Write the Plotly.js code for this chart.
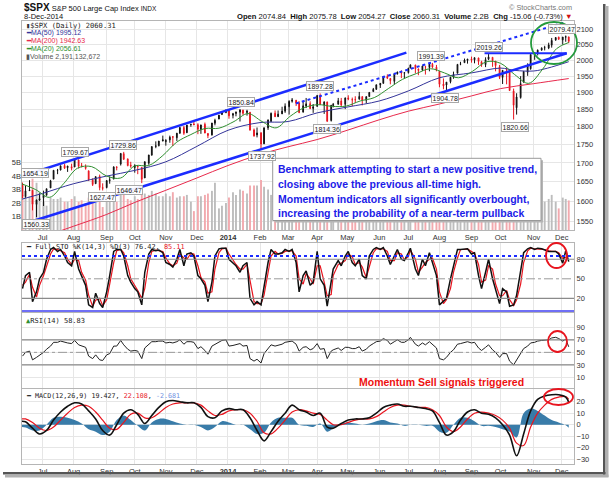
<!DOCTYPE html>
<html><head><meta charset="utf-8">
<script src="https://cdn.plot.ly/plotly-3.0.1.min.js"></script>
<style>html,body{margin:0;padding:0;background:#fff}#chart{width:609px;height:479px}</style>
</head><body><div id="chart"></div>
<script>
// ---------- DATA (half-week candles) ----------
const dates = ['2013-06-11','2013-06-14','2013-06-18','2013-06-21','2013-06-25','2013-06-28','2013-07-02','2013-07-05','2013-07-09','2013-07-12',
'2013-07-16','2013-07-19','2013-07-23','2013-07-26','2013-07-30','2013-08-02','2013-08-06','2013-08-09','2013-08-13','2013-08-16',
'2013-08-20','2013-08-23','2013-08-27','2013-08-30','2013-09-03','2013-09-06','2013-09-10','2013-09-13','2013-09-17','2013-09-20',
'2013-09-24','2013-09-27','2013-10-01','2013-10-04','2013-10-08','2013-10-11','2013-10-15','2013-10-18','2013-10-22','2013-10-25',
'2013-10-29','2013-11-01','2013-11-05','2013-11-08','2013-11-12','2013-11-15','2013-11-19','2013-11-22','2013-11-26','2013-11-29',
'2013-12-03','2013-12-06','2013-12-10','2013-12-13','2013-12-17','2013-12-20','2013-12-24','2013-12-27','2013-12-31','2014-01-03',
'2014-01-07','2014-01-10','2014-01-14','2014-01-17','2014-01-21','2014-01-24','2014-01-28','2014-01-31','2014-02-04','2014-02-07',
'2014-02-11','2014-02-14','2014-02-18','2014-02-21','2014-02-25','2014-02-28','2014-03-04','2014-03-07','2014-03-11','2014-03-14',
'2014-03-18','2014-03-21','2014-03-25','2014-03-28','2014-04-01','2014-04-04','2014-04-08','2014-04-11','2014-04-15','2014-04-17',
'2014-04-22','2014-04-25','2014-04-29','2014-05-02','2014-05-06','2014-05-09','2014-05-13','2014-05-16','2014-05-20','2014-05-23',
'2014-05-27','2014-05-30','2014-06-03','2014-06-06','2014-06-10','2014-06-13','2014-06-17','2014-06-20','2014-06-24','2014-06-27',
'2014-07-01','2014-07-03','2014-07-08','2014-07-11','2014-07-15','2014-07-18','2014-07-22','2014-07-25','2014-07-29','2014-08-01',
'2014-08-05','2014-08-08','2014-08-12','2014-08-15','2014-08-19','2014-08-22','2014-08-26','2014-08-29','2014-09-02','2014-09-05',
'2014-09-09','2014-09-12','2014-09-16','2014-09-19','2014-09-23','2014-09-26','2014-09-30','2014-10-03','2014-10-07','2014-10-10',
'2014-10-14','2014-10-17','2014-10-21','2014-10-24','2014-10-28','2014-10-31','2014-11-04','2014-11-07','2014-11-11','2014-11-14',
'2014-11-18','2014-11-21','2014-11-25','2014-11-28','2014-12-02','2014-12-05','2014-12-08'];

const open = [1643,1612,1627,1628,1592,1603,1609,1615,1634,1657,
1680,1681,1693,1687,1690,1689,1708,1693,1689,1679,
1655,1645,1664,1635,1635,1653,1657,1689,1697,1725,
1711,1694,1687,1692,1688,1660,1699,1721,1745,1747,
1760,1758,1763,1772,1769,1782,1798,1783,1806,1808,
1806,1792,1807,1781,1777,1810,1822,1835,1841,1848,
1833,1838,1842,1848,1841,1842,1791,1777,1783,1752,
1797,1815,1839,1829,1837,1845,1858,1874,1877,1869,
1842,1860,1867,1853,1859,1891,1863,1872,1818,1861,
1865,1875,1865,1884,1879,1879,1880,1888,1877,1888,
1903,1910,1923,1928,1949,1943,1934,1957,1962,1959,
1961,1975,1985,1972,1969,1979,1977,1987,1978,1965,
1926,1923,1933,1947,1959,1987,1992,1999,2004,2001,
2007,1995,1986,2003,2009,1997,1979,1946,1970,1965,
1905,1855,1885,1932,1962,1973,2019,2023,2032,2039,
2039,2048,2065,2074,2065,2074,2074.84];

const high = [1648,1640,1654.2,1629,1604,1620,1627,1632,1655,1680.2,
1684,1693,1698,1692,1698,1709.7,1709,1700,1696,1679,
1659,1664,1669,1646,1654,1664,1691,1691,1727,1729.9,
1711,1703,1696,1692,1688,1704,1721.8,1745,1759,1760,
1775,1765,1775,1774,1782,1798.2,1802,1805,1808,1813.6,
1810,1806,1812,1782,1811,1823,1834,1844.9,1849.4,1848,
1840,1844,1850.8,1849,1849,1842,1795,1798,1784,1798,
1821,1841,1847,1847,1858,1867.9,1877,1883.6,1878,1874,
1874,1883.9,1874,1866,1893,1897.3,1874,1873,1863,1869,
1884,1884,1885,1892,1885,1889,1902,1888,1888,1901,
1914,1924,1929,1949.4,1955.6,1944,1958,1963.9,1968,1961,
1976,1985.6,1985,1974,1983,1982,1988,1991.4,1985,1966,
1943,1932,1948,1964,1988,1994.8,2005,2004,2011.2,2009,
2007.7,1998,2009,2019.3,2009,1997,1985,1969,1977,1970,
1912,1898,1950,1965,1990,2018.2,2024,2034,2041,2046,
2056,2071.5,2074,2075.8,2074.9,2079.5,2075.78];

const low = [1608,1609,1627,1577,1560.3,1601,1588,1615,1634,1657,
1670,1680,1684,1676,1680,1689,1685,1688,1682,1652,
1639,1645,1628,1627.5,1633,1645,1657,1680,1693,1708,
1691,1687,1674,1670,1646.5,1660,1695,1720,1740,1745,
1759,1747,1755,1746,1760,1780,1777,1783,1800,1805,
1779,1780,1782,1768,1775,1804,1822,1835,1839,1823,
1824,1830,1815,1834,1832,1790,1772,1770,1737.9,1752,
1791,1815,1828,1829,1837,1840,1835,1870,1860,1839,
1842,1854,1851,1840,1859,1863,1837,1814.4,1815,1856,
1865,1860,1851,1877,1860,1869,1880,1862,1868,1888,
1903,1908,1914,1927,1941,1925,1925,1955,1944,1944,
1958,1975,1959,1953,1966,1955,1965,1974,1965,1916,
1910,1904.8,1928,1942,1959,1984,1992,1989,1992,1990,
1985,1979,1978,2000,1979,1965,1941,1926,1925,1905,
1820.7,1835,1882,1930,1951,1970,2001,2015,2030,2031,
2035,2040,2062,2065,2049.6,2059,2054.27];

const close = [1612.5,1626.7,1628.9,1592.4,1603.3,1606.3,1615.4,1631.9,1652.6,1680.2,
1680.9,1692.1,1685.9,1691.7,1685.7,1709.7,1690.9,1691.4,1685.4,1655.8,
1642.8,1663.5,1635.0,1633.0,1653.1,1655.2,1689.1,1688.0,1725.5,1709.9,
1692.8,1691.8,1693.9,1690.5,1656.4,1703.2,1721.5,1744.5,1746.4,1759.8,
1763.3,1761.6,1770.5,1770.6,1782.0,1798.2,1781.4,1804.8,1807.2,1805.8,
1792.8,1805.1,1782.2,1775.3,1810.7,1818.3,1833.3,1841.4,1848.4,1831.4,
1837.5,1842.4,1848.4,1838.7,1844.9,1790.3,1774.2,1782.6,1751.6,1797.0,
1819.3,1838.6,1828.8,1836.3,1845.2,1859.5,1873.8,1878.0,1868.2,1841.1,
1860.8,1866.5,1852.6,1857.6,1890.9,1865.1,1872.2,1815.7,1862.3,1864.9,
1875.4,1863.4,1884.0,1881.1,1878.2,1878.5,1888.5,1877.9,1888.0,1900.5,
1909.8,1923.6,1927.9,1949.4,1943.9,1936.2,1957.0,1962.9,1959.5,1961.0,
1974.6,1985.4,1972.8,1967.6,1981.6,1978.2,1987.0,1978.3,1970.1,1925.2,
1920.2,1931.6,1946.7,1955.1,1986.5,1988.4,2000.1,2003.4,2000.7,2007.7,
1995.7,1985.5,2001.6,2010.4,1998.3,1982.9,1946.2,1967.9,1968.9,1906.1,
1862.5,1886.8,1927.1,1964.6,1982.3,2018.1,2023.6,2031.9,2038.3,2039.8,
2048.7,2063.5,2072.8,2067.6,2074.3,2075.4,2060.31];

// average daily volume, billions
const volumeB = [2.6,2.5,2.5,3.8,3.5,2.8,2.1,1.8,2.4,2.3,
2.3,2.4,2.1,2.1,2.3,2.5,2.1,2.2,2.0,2.4,
2.1,2.0,2.1,1.7,2.3,2.1,2.5,2.1,2.6,3.0,
2.3,2.2,2.5,2.3,2.6,2.7,2.6,2.9,2.7,2.5,
2.5,2.7,2.5,2.8,2.4,2.5,2.5,2.6,2.1,1.4,
2.5,2.5,2.6,2.7,2.9,3.5,1.6,1.8,2.0,2.4,
2.8,2.6,3.0,2.9,2.7,3.3,3.3,3.3,3.7,3.2,
3.0,2.6,2.8,2.7,2.7,3.0,2.7,2.5,2.6,2.9,
2.6,3.3,2.8,2.6,2.8,3.0,2.9,3.1,2.8,2.5,
2.1,2.3,2.5,2.5,2.5,2.4,2.5,2.6,2.3,2.1,
2.1,2.4,2.1,2.3,2.1,2.1,2.2,3.0,2.2,2.4,
2.1,1.6,2.2,2.1,2.3,2.5,2.1,2.1,2.3,3.0,
2.5,2.5,2.1,2.3,1.9,1.8,1.6,1.7,2.1,2.2,
2.4,2.4,2.5,3.0,2.5,2.5,2.8,3.0,3.0,3.4,
3.9,3.6,2.7,2.6,2.5,3.0,2.5,2.3,2.1,2.1,
2.3,2.6,2.1,1.6,2.4,2.3,2.19];

const stoK = [35,55,60,15,30,50,60,80,95,98,
92,95,85,75,70,92,65,55,40,10,
6,28,12,6,30,55,92,95,95,85,
55,45,35,30,10,60,88,95,93,94,
90,75,72,68,80,95,70,88,90,85,
55,50,40,15,45,85,96,97,97,80,
75,70,60,70,75,20,10,15,10,40,
75,95,88,88,90,95,92,95,75,30,
55,62,40,45,92,50,40,8,45,65,
78,70,85,92,75,70,80,55,50,85,
95,98,95,98,85,72,85,95,80,78,
90,97,65,55,80,70,90,75,55,10,
15,20,50,68,95,95,96,96,88,90,
55,35,60,80,50,35,12,35,30,8,
10,25,60,90,96,98,95,97,96,94,
92,92,92,88,74,93,76.42];

const stoD = [40,45,57,37,22,40,55,70,88,96,
95,93,90,80,72,80,78,60,48,25,
8,17,20,9,18,42,75,93,95,90,
70,50,40,32,20,35,75,92,94,93,
92,82,73,70,74,88,82,80,89,88,
70,52,45,28,30,65,90,96,97,88,
78,72,65,65,72,45,15,12,12,25,
58,85,92,88,89,92,93,93,85,50,
42,58,50,42,70,70,45,24,26,55,
72,74,78,88,84,72,75,68,52,68,
90,96,96,96,92,78,78,90,88,79,
84,94,80,60,68,75,80,82,65,30,
12,18,35,60,82,95,95,96,92,89,
72,45,48,70,65,42,24,24,32,18,
9,18,42,75,93,97,96,96,96,95,
93,92,92,90,81,83,85.11];

const rsi = [44,50,52,38,42,45,50,55,60,66,
66,68,66,65,64,69,62,60,58,44,
40,46,38,37,46,48,60,60,69,62,
55,52,53,52,40,57,62,67,67,68,
68,65,66,65,67,70,63,67,67,66,
56,59,53,47,60,63,67,69,70,60,
61,62,64,60,61,40,36,39,33,48,
56,62,60,61,63,66,67,68,63,52,
58,59,54,56,64,55,56,40,52,54,
57,53,58,58,56,56,59,52,55,60,
64,67,68,72,69,63,67,70,66,66,
70,74,63,60,65,62,67,62,57,40,
38,42,50,54,63,64,66,67,65,66,
57,53,58,62,54,50,42,48,48,36,
30,38,50,56,60,65,66,68,69,69,
70,73,74,72,68,71,58.83];

// Moving averages
const ma200Dates = ['2013-06-10','2013-07-01','2013-08-01','2013-09-03','2013-10-01','2013-11-01','2013-12-02','2014-01-02','2014-02-03','2014-03-03','2014-04-01','2014-05-01','2014-06-02','2014-07-01','2014-08-01','2014-09-02','2014-10-01','2014-11-03','2014-12-08'];
const ma200 = [1495,1512,1538,1567,1597,1628,1660,1693,1723,1744,1764,1790,1820,1845,1866,1890,1912,1927,1942.63];
const ma50Dates = ['2013-06-10','2013-07-01','2013-08-01','2013-09-03','2013-10-01','2013-11-01','2013-12-02','2014-01-02','2014-02-03','2014-03-03','2014-04-01','2014-05-01','2014-06-02','2014-07-01','2014-08-01','2014-09-02','2014-10-01','2014-10-15','2014-11-03','2014-11-17','2014-12-08'];
const ma50 = [1605,1620,1645,1665,1680,1703,1745,1790,1812,1815,1840,1857,1875,1905,1945,1960,1975,1968,1966,1975,1995.12];
const ma20Dates = ['2013-06-10','2013-06-24','2013-07-08','2013-07-22','2013-08-05','2013-08-19','2013-09-03','2013-09-17','2013-10-01','2013-10-15','2013-10-29','2013-11-12','2013-11-26','2013-12-10','2013-12-24','2014-01-08','2014-01-22','2014-02-05','2014-02-19','2014-03-05','2014-03-19','2014-04-02','2014-04-16','2014-04-30','2014-05-14','2014-05-28','2014-06-11','2014-06-25','2014-07-09','2014-07-23','2014-08-06','2014-08-20','2014-09-03','2014-09-17','2014-10-01','2014-10-15','2014-10-29','2014-11-12','2014-11-26','2014-12-08'];
const ma20 = [1645,1630,1610,1645,1686,1690,1665,1660,1692,1693,1720,1757,1778,1795,1796,1815,1838,1815,1797,1830,1855,1864,1859,1860,1875,1885,1912,1940,1958,1973,1960,1945,1965,1995,1990,1955,1928,1972,2037,2056.61];

// MACD (weekly readings)
const macdDates = ['2013-06-10','2013-06-14','2013-06-21','2013-06-28','2013-07-05','2013-07-12','2013-07-19','2013-07-26','2013-08-02','2013-08-09','2013-08-16','2013-08-23','2013-08-30','2013-09-06','2013-09-13','2013-09-20','2013-09-27','2013-10-04','2013-10-11','2013-10-18','2013-10-25','2013-11-01','2013-11-08','2013-11-15','2013-11-22','2013-11-29','2013-12-06','2013-12-13','2013-12-20','2013-12-27','2014-01-03','2014-01-10','2014-01-17','2014-01-24','2014-01-31','2014-02-07','2014-02-14','2014-02-21','2014-02-28','2014-03-07','2014-03-14','2014-03-21','2014-03-28','2014-04-04','2014-04-11','2014-04-17','2014-04-25','2014-05-02','2014-05-09','2014-05-16','2014-05-23','2014-05-30','2014-06-06','2014-06-13','2014-06-20','2014-06-27','2014-07-03','2014-07-11','2014-07-18','2014-07-25','2014-08-01','2014-08-08','2014-08-15','2014-08-22','2014-08-29','2014-09-05','2014-09-12','2014-09-19','2014-09-26','2014-10-03','2014-10-10','2014-10-17','2014-10-24','2014-10-31','2014-11-07','2014-11-14','2014-11-21','2014-11-28','2014-12-05','2014-12-08'];
const macd = [3,2.5,-3,-8,-5,4,11,16,19,18, 12,5,-5,-9,0,10,13,9,1,8, 15,20,21,20,19,19,15,7,6,12, 14,13,13,6,-5,-14,-6,3,10,17, 13,11,8,10,-2,-3,1,4,5,5, 6,10,15,17,18,16,16,15,14,12, 2,-9,-6,4,11,13,10,9,6,0, -9,-27,-8,12,22,25,26,26,24,19.427];
const macdSignal = [5,5,2,-3,-5,-2,4,10,15,17, 16,11,4,-3,-4,2,9,10,6,6, 10,15,18,19,19,19,17,12,8,9, 12,13,13,10,3,-7,-8,-3,4,11, 13,12,10,9,4,0,0,2,4,5, 5,7,11,15,17,17,16,15,15,13, 8,-2,-6,-2,5,10,11,10,8,4, -3,-16,-18,-2,10,17,22,24,24.5,22.108];
const macdHist = [-2,-2.5,-5,-5,0,6,7,6,4,1, -4,-6,-9,-6,4,8,4,-1,-5,2, 5,5,3,1,0,0,-2,-5,-2,3, 2,0,0,-4,-8,-7,2,6,6,6, 0,-1,-2,1,-6,-3,1,2,1,0, 1,3,4,2,1,-1,0,0,-1,-1, -6,-7,0,6,6,3,-1,-1,-2,-4, -6,-11,10,14,12,8,4,2,-0.5,-2.681];

// Labelled highs / lows
const peakDates  = ['2013-06-18','2013-06-24','2013-08-02','2013-08-29','2013-09-19','2013-10-09','2014-01-15','2014-02-05','2014-04-04','2014-04-11','2014-07-24','2014-08-07','2014-09-19','2014-10-15','2014-12-05'];
const peakValues = [1654.19,1560.33,1709.67,1627.47,1729.86,1646.47,1850.84,1737.92,1897.28,1814.36,1991.39,1904.78,2019.26,1820.66,2079.47];
const peakIsHigh = [1,0,1,0,1,0,1,0,1,0,1,0,1,0,1];

// Hand-drawn trend lines (date, price pairs)
const upperChannelX = ['2013-06-10 12:00','2014-06-29'], upperChannelY = [1664.7,2023.8];
const lowerChannelX = ['2013-06-21 12:00','2014-12-06'], lowerChannelY = [1550.8,2021.9];
const dottedX = ['2014-03-10 22:00','2014-12-05 05:00'], dottedY = [1867.7,2124.4];
const flatX = ['2014-09-15','2014-12-06'], flatY = [2021.9,2021.9];

const monthTicks = ['2013-07-01','2013-08-01','2013-09-03','2013-10-01','2013-11-01','2013-12-02','2014-01-02','2014-02-03','2014-03-03','2014-04-01','2014-05-01','2014-06-02','2014-07-01','2014-08-01','2014-09-02','2014-10-01','2014-11-03','2014-12-01'];
const monthLabels = ['Jul','Aug','Sep','Oct','Nov','Dec','<b>2014</b>','Feb','Mar','Apr','May','Jun','Jul','Aug','Sep','Oct','Nov','Dec'];
const priceTicks = [1550,1600,1650,1700,1750,1800,1850,1900,1950,2000,2050,2100];

// ---------- LAYOUT HELPERS ----------
const L=22,R=574,T=21,B=464;
const px = x => (x-L)/(R-L);
const py = y => (B-y)/(B-T);
const FONT = 'Liberation Sans, Arial, sans-serif';
const MONO = 'DejaVu Sans Mono, monospace';
const BLUE = '#1b2cff';
const RED = '#e8141e';

const volColors = close.map((c,i)=> c>=open[i] ? '#bdbdbd' : '#f2a9ae');

const traces = [
  {type:'bar', x:dates, y:volumeB.map(v=>v*1e9), xaxis:'x', yaxis:'y', width:1.9*864e5,
   marker:{color:volColors, line:{width:0}}, hoverinfo:'skip'},
  {type:'scatter', mode:'lines', x:ma200Dates, y:ma200, xaxis:'x', yaxis:'y2', line:{color:'#e8294c', width:1, shape:'spline'}},
  {type:'scatter', mode:'lines', x:ma50Dates, y:ma50, xaxis:'x', yaxis:'y2', line:{color:'#34349a', width:1, shape:'spline'}},
  {type:'scatter', mode:'lines', x:ma20Dates, y:ma20, xaxis:'x', yaxis:'y2', line:{color:'#2f8f2f', width:1, shape:'spline'}},
  {type:'candlestick', x:dates, open:open, high:high, low:low, close:close, xaxis:'x', yaxis:'y2', whiskerwidth:0,
   increasing:{line:{color:'#111', width:1}, fillcolor:'#111'},
   decreasing:{line:{color:RED, width:1}, fillcolor:RED}},
  {type:'scatter', mode:'lines', x:upperChannelX, y:upperChannelY, xaxis:'x', yaxis:'y2', line:{color:BLUE, width:2.5}},
  {type:'scatter', mode:'lines', x:lowerChannelX, y:lowerChannelY, xaxis:'x', yaxis:'y2', line:{color:BLUE, width:2.5}},
  {type:'scatter', mode:'lines', x:flatX, y:flatY, xaxis:'x', yaxis:'y2', line:{color:BLUE, width:2.2}},
  {type:'scatter', mode:'lines', x:dottedX, y:dottedY, xaxis:'x', yaxis:'y2', line:{color:BLUE, width:2, dash:'dot'}},
  {type:'scatter', mode:'lines', x:dates, y:stoD, xaxis:'x2', yaxis:'y3', line:{color:RED, width:1.2}},
  {type:'scatter', mode:'lines', x:dates, y:stoK, xaxis:'x2', yaxis:'y3', line:{color:'#111', width:1.5}},
  {type:'scatter', mode:'lines', x:dates, y:rsi, xaxis:'x3', yaxis:'y4', line:{color:'#222', width:1}},
  {type:'scatter', mode:'lines', x:macdDates, y:macdHist, xaxis:'x4', yaxis:'y5', fill:'tozeroy',
   fillcolor:'rgba(35,110,160,0.9)', line:{width:0, shape:'spline'}},
  {type:'scatter', mode:'lines', x:macdDates, y:macdSignal, xaxis:'x4', yaxis:'y5', line:{color:RED, width:1.2, shape:'spline'}},
  {type:'scatter', mode:'lines', x:macdDates, y:macd, xaxis:'x4', yaxis:'y5', line:{color:'#111', width:1.6, shape:'spline'}}
];

const xRange = ['2013-06-10 12:00','2014-12-13 06:00'];
const xBase = {type:'date', range:xRange, tickmode:'array', tickvals:monthTicks, ticktext:monthLabels,
  showgrid:true, gridcolor:'#e6e6e6', gridwidth:1, showline:true, mirror:true, linecolor:'#b5b5b5', linewidth:1,
  ticks:'', zeroline:false, automargin:false, rangeslider:{visible:false}, tickfont:{family:FONT, size:7.5, color:'#333'}};
const yBase = {side:'right', showline:true, mirror:true, linecolor:'#b5b5b5', linewidth:1, ticks:'', zeroline:false,
  automargin:false, tickmode:'array', tickfont:{family:FONT, size:7.5, color:'#333'}, gridcolor:'#e6e6e6'};

const ann = [];
function txt(x, y, text, opt){ ann.push(Object.assign({xref:'paper', yref:'paper', x:px(x), y:py(y), text:text, showarrow:false,
  xanchor:'left', yanchor:'middle', font:{family:FONT, size:7.5, color:'#222'}}, opt||{})); }

// header
txt(22, 7.5, "<span style='font-size:10px'><b>$SPX</b></span> S&amp;P 500 Large Cap Index <span style='font-size:6.5px'>INDX</span>", {font:{family:FONT,size:7.5,color:'#111'}});
txt(22, 16.5, "8-Dec-2014", {font:{family:FONT,size:7.5,color:'#111'}});
txt(574, 16.5, "<b>Open</b> 2074.84  <b>High</b> 2075.78  <b>Low</b> 2054.27  <b>Close</b> 2060.31  <b>Volume</b> 2.2B  <b>Chg</b> -15.06 (-0.73%) <span style='color:#d01010'>▼</span>", {xanchor:'right', font:{family:FONT,size:7.6,color:'#111'}});
txt(574, 7, "© StockCharts.com", {xanchor:'right', font:{family:FONT,size:7.3,color:'#777'}});

// legends
const last = close.length-1;
txt(24, 25.7, "<span style='color:#333'>▮</span>$SPX (Daily) " + close[last].toFixed(2), {font:{family:MONO,size:7.1,color:'#222'}});
txt(24, 33.3, "<b>━</b>MA(50) " + ma50[ma50.length-1].toFixed(2), {font:{family:FONT,size:7,color:'#34349a'}});
txt(24, 41.3, "<b>━</b>MA(200) " + ma200[ma200.length-1].toFixed(2), {font:{family:FONT,size:7,color:'#e8294c'}});
txt(24, 49.3, "<b>━</b>MA(20) " + ma20[ma20.length-1].toFixed(2), {font:{family:FONT,size:7,color:'#2f8f2f'}});
txt(24, 56.7, "▮Volume 2,191,132,672", {font:{family:FONT,size:7,color:'#555'}});
txt(24, 247, "<b>━</b> Full STO %K(14,3) %D(3) " + stoK[last].toFixed(2) + ", <span style='color:"+RED+"'>" + stoD[last].toFixed(2) + "</span>", {font:{family:MONO,size:6.9,color:'#222'}});
txt(24, 321, "<span style='color:#2f8f2f'>▲</span>RSI(14) " + rsi[last].toFixed(2), {font:{family:MONO,size:7,color:'#222'}});
const mL = macd.length-1;
txt(24, 395.5, "<b>━</b> MACD(12,26,9) " + macd[mL].toFixed(3) + ", <span style='color:"+RED+"'>" + macdSignal[mL].toFixed(3) + "</span>, <span style='color:#6d8fe0'>" + macdHist[mL].toFixed(3) + "</span>", {font:{family:MONO,size:6.7,color:'#222'}});

// peak labels
const peakShift = {0:5, 5:-14, 14:-4};
peakDates.forEach((d,i)=>{
  ann.push({xref:'x', yref:'y2', x:d, y:Math.log10(peakValues[i]), text:peakValues[i].toFixed(2), showarrow:false,
    xanchor:'center', yanchor: peakIsHigh[i] ? 'bottom':'top', yshift: peakIsHigh[i] ? 2 : -2, xshift: peakShift[i]||0,
    font:{family:FONT, size:7, color:'#222'}, bgcolor:'rgba(255,255,255,0.92)', bordercolor:'#a8a8a8', borderwidth:1, borderpad:0.5});
});

// text box
const boxLines = ['Benchmark attempting to start a new positive trend,','closing above the previous all-time high.','Momentum indicators all significantly overbought,','increasing the probability of a near-term pullback'];
[169.3,184,198.7,212.7].forEach((y,i)=> txt(275.5, y, '<b>'+boxLines[i]+'</b>', {font:{family:FONT,size:10.5,color:'#1c1ce8'}}));
txt(441.5, 382, '<b>Momentum Sell signals triggered</b>', {xanchor:'center', font:{family:FONT,size:10.5,color:'#ee1111'}});

const shapes = [
  // text box + shadow
  {type:'rect', xref:'paper', yref:'paper', x0:px(274.7), x1:px(543), y0:py(222.5), y1:py(160.3), fillcolor:'#b5b5b5', line:{width:0}, layer:'above'},
  {type:'rect', xref:'paper', yref:'paper', x0:px(272.7), x1:px(541), y0:py(220.5), y1:py(158.3), fillcolor:'#ffffff', line:{color:'#999', width:1}, layer:'above'},
  // STO levels
  {type:'line', xref:'paper', yref:'y3', x0:0, x1:1, y0:80, y1:80, line:{color:'#8a8a8a', width:1.2}},
  {type:'line', xref:'paper', yref:'y3', x0:0, x1:1, y0:20, y1:20, line:{color:'#8a8a8a', width:1.2}},
  {type:'line', xref:'paper', yref:'y3', x0:0, x1:1, y0:50, y1:50, line:{color:'#9a9a9a', width:1, dash:'dashdot'}},
  {type:'line', xref:'paper', yref:'y3', x0:0, x1:1, y0:85, y1:85, line:{color:BLUE, width:2, dash:'dot'}, layer:'above'},
  {type:'line', xref:'paper', yref:'paper', x0:0, x1:1, y0:py(311), y1:py(311), line:{color:'#6f6ff5', width:2}},
  // RSI levels
  {type:'line', xref:'paper', yref:'y4', x0:0, x1:1, y0:70, y1:70, line:{color:'#8a8a8a', width:1.2}},
  {type:'line', xref:'paper', yref:'y4', x0:0, x1:1, y0:30, y1:30, line:{color:'#8a8a8a', width:1.2}},
  {type:'line', xref:'paper', yref:'y4', x0:0, x1:1, y0:50, y1:50, line:{color:'#9a9a9a', width:1, dash:'dashdot'}},
  // circles
  {type:'circle', xref:'paper', yref:'paper', x0:px(531), x1:px(577), y0:py(64), y1:py(22), line:{color:'#249a3c', width:1.8}},
  {type:'circle', xref:'paper', yref:'paper', x0:px(546), x1:px(567), y0:py(268), y1:py(243), line:{color:RED, width:1.8}},
  {type:'circle', xref:'paper', yref:'paper', x0:px(548), x1:px(567), y0:py(352), y1:py(331), line:{color:RED, width:1.8}},
  {type:'circle', xref:'paper', yref:'paper', x0:px(544), x1:px(573), y0:py(405), y1:py(389), line:{color:RED, width:1.8}},
  // page drop shadow
  {type:'rect', xref:'paper', yref:'paper', x0:px(603), x1:px(605.5), y0:py(475), y1:py(4), fillcolor:'#555', line:{width:0}},
  {type:'rect', xref:'paper', yref:'paper', x0:px(605.5), x1:px(608.5), y0:py(477), y1:py(6), fillcolor:'#b0b0b0', line:{width:0}},
  {type:'rect', xref:'paper', yref:'paper', x0:px(3), x1:px(605.5), y0:py(474.5), y1:py(472), fillcolor:'#555', line:{width:0}},
  {type:'rect', xref:'paper', yref:'paper', x0:px(5), x1:px(608.5), y0:py(477.5), y1:py(474.5), fillcolor:'#b0b0b0', line:{width:0}}
];

const layout = {
  width:609, height:479, margin:{l:L, r:609-R, t:T, b:479-B}, paper_bgcolor:'#fff', plot_bgcolor:'#fff',
  showlegend:false, hovermode:false, boxgap:0.45, font:{family:FONT, size:7.5, color:'#333'},
  xaxis: Object.assign({}, xBase, {anchor:'y', domain:[0,1]}),
  xaxis2: Object.assign({}, xBase, {anchor:'y3', domain:[0,1], showticklabels:false}),
  xaxis3: Object.assign({}, xBase, {anchor:'y4', domain:[0,1], showticklabels:false}),
  xaxis4: Object.assign({}, xBase, {anchor:'y5', domain:[0,1]}),
  yaxis: {domain:[py(230),1], range:[0, 209/13.5*1e9], side:'left', tickmode:'array',
    tickvals:[1e9,2e9,3e9,4e9,5e9], ticktext:['1B','2B','3B','4B','5B'], showgrid:false, zeroline:false, showline:false,
    ticks:'', automargin:false, tickfont:{family:FONT, size:7.5, color:'#333'}},
  yaxis2: Object.assign({}, yBase, {overlaying:'y', type:'log', range:[3.18437,3.32792], tickvals:priceTicks,
    ticktext:priceTicks.map(String), showgrid:true}),
  yaxis3: Object.assign({}, yBase, {domain:[py(311.5), py(242.7)], range:[-0.15,105.4], tickvals:[20,50,80], showgrid:false}),
  yaxis4: Object.assign({}, yBase, {domain:[py(388), py(313)], range:[-6.9,112.8], tickvals:[10,30,50,70,90], showgrid:true}),
  yaxis5: Object.assign({}, yBase, {domain:[0, py(389)], range:[-34.1,31], tickvals:[-30,-20,-10,0,10,20], showgrid:true}),
  annotations: ann, shapes: shapes
};

Plotly.newPlot('chart', traces, layout, {staticPlot:true, displayModeBar:false});
</script></body></html>
